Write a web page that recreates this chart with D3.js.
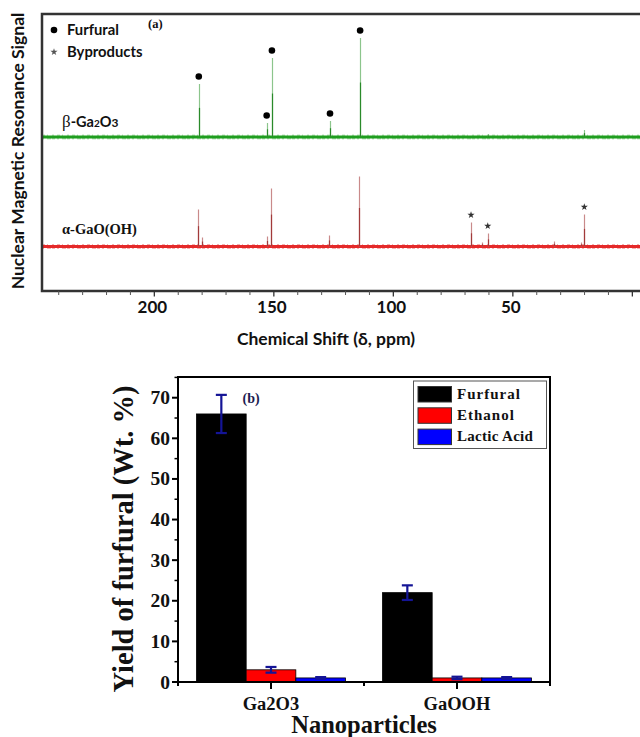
<!DOCTYPE html>
<html>
<head>
<meta charset="utf-8">
<script src="https://cdn.jsdelivr.net/npm/d3@7/dist/d3.min.js"></script>
<style>
  html, body { margin: 0; padding: 0; background: #fff; }
  svg { display: block; }
</style>
</head>
<body>
<svg id="chart" width="640" height="737"></svg>
<script>
// ---------- Panel (a): NMR spectra ----------
const ppmMajorTicks = [200, 150, 100, 50, 0];
const ppmTickLabels = ["200", "150", "100", "50", ""];
const ppmMinorTicks = [240, 230, 220, 210, 190, 180, 170, 160, 140, 130, 120, 110, 90, 80, 70, 60, 40, 30, 20, 10];

const betaPeakPpm    = [181.4, 153.0, 150.8, 126.5, 113.9, 60.4, 20.2];
const betaPeakHeight = [53, 14, 79, 16, 99, 3, 7];
const betaFurfuralPpm = [181.4, 153.0, 150.8, 126.5, 113.9];

const alphaPeakPpm    = [181.6, 179.9, 153.0, 151.2, 126.8, 114.2, 67.5, 63.0, 60.5, 32.8, 21.5, 20.1];
const alphaPeakHeight = [37, 9, 10, 58, 11, 70, 24, 4, 13, 5, 4, 32];
const alphaByproductPpm = [67.5, 60.5, 20.1];

const spectraOffsets = { beta: 154, alpha: 44.5 };

// ---------- Panel (b): yields ----------
const categories = ["Ga2O3", "GaOOH"];
const seriesNames = ["Furfural", "Ethanol", "Lactic Acid"];
const furfuralYield = [66, 22];
const ethanolYield  = [3, 1];
const lacticYield   = [1, 1];
const furfuralErr = [4.7, 1.8];
const ethanolErr  = [0.7, 0.3];
const lacticErr   = [0.2, 0.2];
const yieldTicks = [0, 10, 20, 30, 40, 50, 60, 70];
const yieldMinorTicks = [5, 15, 25, 35, 45, 55, 65, 75];

const svg = d3.select("#chart");

// ====== Panel (a) ======
const A = { left: 42, right: 640, top: 14, bottom: 291 };
const xA = d3.scaleLinear().domain([247, -3.2]).range([A.left, A.right]);
const yA = d3.scaleLinear().domain([0, 277]).range([A.bottom, A.top]);
const sans = "Lato, 'Open Sans', sans-serif";
const serif = "'Liberation Serif', 'DejaVu Serif', serif";

const gA = svg.append("g");

function drawSpectrum(ppm, heights, offset, baseColor, peakColor, peakLight) {
  const xl = xA(xA.domain()[0]), xr = xA(xA.domain()[1]);
  gA.append("line")
    .attr("x1", xl).attr("x2", xr)
    .attr("y1", yA(offset)).attr("y2", yA(offset))
    .attr("stroke", baseColor).attr("stroke-width", 3.2);
  gA.append("line")
    .attr("x1", xl).attr("x2", xr)
    .attr("y1", yA(offset) - 1.8).attr("y2", yA(offset) - 1.8)
    .attr("stroke", baseColor).attr("stroke-width", 1).attr("stroke-opacity", 0.45)
    .attr("stroke-dasharray", "3 2 1 4 2 3");
  gA.append("line")
    .attr("x1", xl).attr("x2", xr)
    .attr("y1", yA(offset) + 1.8).attr("y2", yA(offset) + 1.8)
    .attr("stroke", baseColor).attr("stroke-width", 1).attr("stroke-opacity", 0.45)
    .attr("stroke-dasharray", "2 3 4 1 3 2");
  const peaks = ppm.map((p, i) => ({ p, h: heights[i] }));
  gA.selectAll(null).data(peaks).enter().append("line")
    .attr("x1", d => Math.round(xA(d.p)) + 0.5).attr("x2", d => Math.round(xA(d.p)) + 0.5)
    .attr("y1", yA(offset)).attr("y2", d => yA(offset + d.h))
    .attr("stroke", peakLight).attr("stroke-width", 1.2);
  gA.selectAll(null).data(peaks).enter().append("line")
    .attr("x1", d => Math.round(xA(d.p)) + 0.5).attr("x2", d => Math.round(xA(d.p)) + 0.5)
    .attr("y1", yA(offset)).attr("y2", d => yA(offset + d.h * 0.55))
    .attr("stroke", peakColor).attr("stroke-width", 1.2);
}

drawSpectrum(betaPeakPpm, betaPeakHeight, spectraOffsets.beta, "#1f9e1f", "#2a8a2a", "#8cc58c");
drawSpectrum(alphaPeakPpm, alphaPeakHeight, spectraOffsets.alpha, "#e52a2a", "#a23a3a", "#c98a8a");

// furfural dots
gA.selectAll(null).data(betaFurfuralPpm).enter().append("circle")
  .attr("cx", d => xA(d))
  .attr("cy", d => yA(spectraOffsets.beta + betaPeakHeight[betaPeakPpm.indexOf(d)]) - 7.5)
  .attr("r", 3.3).attr("fill", "#000");

// byproduct stars
const star = d3.symbol().type(d3.symbolStar).size(16);
gA.selectAll(null).data(alphaByproductPpm).enter().append("path")
  .attr("d", star)
  .attr("transform", d => `translate(${xA(d)},${yA(spectraOffsets.alpha + alphaPeakHeight[alphaPeakPpm.indexOf(d)]) - 7.5})`)
  .attr("fill", "#333");

// frame (a)
gA.append("path")
  .attr("d", `M${A.right},${A.top}H${A.left}V${A.bottom}H${A.right}`)
  .attr("fill", "none").attr("stroke", "#333").attr("stroke-width", 2.5);

// x axis ticks
gA.selectAll(null).data(ppmMajorTicks).enter().append("line")
  .attr("x1", d => xA(d)).attr("x2", d => xA(d))
  .attr("y1", A.bottom).attr("y2", A.bottom + 5.5)
  .attr("stroke", "#333").attr("stroke-width", 1.3);
gA.selectAll(null).data(ppmMinorTicks).enter().append("line")
  .attr("x1", d => xA(d)).attr("x2", d => xA(d))
  .attr("y1", A.bottom).attr("y2", A.bottom + 4)
  .attr("stroke", "#555").attr("stroke-width", 1);
gA.selectAll(null).data(ppmMajorTicks).enter().append("text")
  .attr("x", d => xA(d) - 2).attr("y", 312.5)
  .attr("text-anchor", "middle")
  .attr("font-family", sans).attr("font-weight", 700).attr("font-size", 17)
  .attr("fill", "#111")
  .text((d, i) => ppmTickLabels[i]);

// x title
gA.append("text")
  .attr("x", 326).attr("y", 345).attr("text-anchor", "middle")
  .attr("font-family", sans).attr("font-weight", 700).attr("font-size", 17.5)
  .attr("fill", "#111")
  .text("Chemical Shift (δ, ppm)");

// y title
gA.append("text")
  .attr("transform", "translate(24,151) rotate(-90)")
  .attr("text-anchor", "middle")
  .attr("font-family", sans).attr("font-weight", 700).attr("font-size", 17.5)
  .attr("fill", "#111")
  .text("Nuclear Magnetic Resonance Signal");

// legend (a)
gA.append("circle").attr("cx", 54).attr("cy", 30).attr("r", 3.3).attr("fill", "#000");
gA.append("text").attr("x", 67).attr("y", 35)
  .attr("font-family", sans).attr("font-weight", 700).attr("font-size", 14.8).attr("fill", "#111")
  .text("Furfural");
gA.append("path").attr("d", star).attr("transform", "translate(54,52)").attr("fill", "#555");
gA.append("text").attr("x", 67).attr("y", 57)
  .attr("font-family", sans).attr("font-weight", 700).attr("font-size", 14.8).attr("fill", "#111")
  .text("Byproducts");
gA.append("text").attr("x", 148).attr("y", 28)
  .attr("font-family", serif).attr("font-weight", 700).attr("font-size", 12.5).attr("fill", "#111")
  .text("(a)");

// series labels
const betaLbl = gA.append("text").attr("x", 62).attr("y", 127)
  .attr("font-family", sans).attr("font-weight", 700).attr("font-size", 14.5).attr("fill", "#111");
betaLbl.append("tspan").attr("font-family", serif).attr("font-weight", 400).attr("font-size", 17).text("β");
betaLbl.append("tspan").text("-Ga");
betaLbl.append("tspan").attr("font-size", 10).text("2");
betaLbl.append("tspan").text("O");
betaLbl.append("tspan").attr("font-size", 12).text("3");

gA.append("text").attr("x", 62).attr("y", 234)
  .attr("font-family", serif).attr("font-weight", 700).attr("font-size", 14.5).attr("fill", "#111")
  .text("α-GaO(OH)");

// ====== Panel (b) ======
const B = { left: 178, right: 550, top: 377, bottom: 682 };
const x0 = d3.scaleBand().domain(categories).range([B.left, B.right]).paddingInner(0).paddingOuter(0);
const groupW = 149;
const x1 = d3.scaleBand().domain(seriesNames).range([0, groupW]);
const yB = d3.scaleLinear().domain([0, 75.1]).range([B.bottom, B.top]);
const colors = { "Furfural": "#000000", "Ethanol": "#ff0000", "Lactic Acid": "#0000ff" };

const valuesBySeries = { "Furfural": furfuralYield, "Ethanol": ethanolYield, "Lactic Acid": lacticYield };
const errBySeries = { "Furfural": furfuralErr, "Ethanol": ethanolErr, "Lactic Acid": lacticErr };

const barData = [];
categories.forEach((c, ci) => {
  seriesNames.forEach(s => {
    barData.push({ c, s, v: valuesBySeries[s][ci], e: errBySeries[s][ci] });
  });
});

const gB = svg.append("g");
const groupX = c => x0(c) + (x0.bandwidth() - groupW) / 2;

gB.selectAll(null).data(barData).enter().append("rect")
  .attr("x", d => groupX(d.c) + x1(d.s))
  .attr("width", x1.bandwidth())
  .attr("y", d => yB(d.v))
  .attr("height", d => yB(0) - yB(d.v))
  .attr("fill", d => colors[d.s])
  .attr("stroke", "#000").attr("stroke-width", 0.8);

// error bars
const errColor = "#141496";
const capW = 5.5;
barData.forEach(d => {
  const cx = groupX(d.c) + x1(d.s) + x1.bandwidth() / 2;
  const y1 = yB(d.v + d.e), y2 = yB(d.v - d.e);
  gB.append("line").attr("x1", cx).attr("x2", cx).attr("y1", y1).attr("y2", y2)
    .attr("stroke", errColor).attr("stroke-width", 2.2);
  [y1, y2].forEach(yy => {
    gB.append("line").attr("x1", cx - capW).attr("x2", cx + capW).attr("y1", yy).attr("y2", yy)
      .attr("stroke", errColor).attr("stroke-width", 2.2);
  });
});

// frame (b)
gB.append("rect").attr("x", B.left).attr("y", B.top)
  .attr("width", B.right - B.left).attr("height", B.bottom - B.top)
  .attr("fill", "none").attr("stroke", "#000").attr("stroke-width", 2);

// y axis ticks
gB.selectAll(null).data(yieldTicks).enter().append("line")
  .attr("x1", B.left - 6).attr("x2", B.left)
  .attr("y1", d => yB(d)).attr("y2", d => yB(d))
  .attr("stroke", "#000").attr("stroke-width", 2);
gB.selectAll(null).data(yieldMinorTicks).enter().append("line")
  .attr("x1", B.left - 3.5).attr("x2", B.left)
  .attr("y1", d => yB(d)).attr("y2", d => yB(d))
  .attr("stroke", "#000").attr("stroke-width", 1.5);
gB.selectAll(null).data(yieldTicks).enter().append("text")
  .attr("x", B.left - 8).attr("y", d => yB(d) + 6.5)
  .attr("text-anchor", "end")
  .attr("font-family", serif).attr("font-weight", 700).attr("font-size", 19.5)
  .attr("fill", "#111")
  .text(d => d);

// x axis ticks
gB.selectAll(null).data(categories).enter().append("line")
  .attr("x1", d => x0(d) + x0.bandwidth() / 2).attr("x2", d => x0(d) + x0.bandwidth() / 2)
  .attr("y1", B.bottom).attr("y2", B.bottom + 7)
  .attr("stroke", "#000").attr("stroke-width", 2);
const bandEdges = [B.left, x0(categories[1]), B.right];
gB.selectAll(null).data(bandEdges).enter().append("line")
  .attr("x1", d => d).attr("x2", d => d)
  .attr("y1", B.bottom).attr("y2", B.bottom + 4)
  .attr("stroke", "#000").attr("stroke-width", 2);
gB.selectAll(null).data(categories).enter().append("text")
  .attr("x", d => x0(d) + x0.bandwidth() / 2).attr("y", 710)
  .attr("text-anchor", "middle")
  .attr("font-family", serif).attr("font-weight", 700).attr("font-size", 18.5)
  .attr("fill", "#111")
  .text(d => d);

gB.append("text").attr("x", 364).attr("y", 733).attr("text-anchor", "middle")
  .attr("font-family", serif).attr("font-weight", 700).attr("font-size", 24.5).attr("fill", "#111")
  .text("Nanoparticles");

gB.append("text").attr("transform", "translate(133,539) rotate(-90)")
  .attr("text-anchor", "middle")
  .attr("font-family", serif).attr("font-weight", 700).attr("font-size", 28.5).attr("fill", "#111")
  .text("Yield of furfural (Wt. %)");

gB.append("text").attr("x", 242.5).attr("y", 403)
  .attr("font-family", serif).attr("font-weight", 700).attr("font-size", 14).attr("fill", "#1c1c50")
  .text("(b)");

// legend (b)
const lg = gB.append("g");
lg.append("rect").attr("x", 413.5).attr("y", 381).attr("width", 133).attr("height", 67.5)
  .attr("fill", "#fff").attr("stroke", "#555").attr("stroke-width", 1);
seriesNames.forEach((s, i) => {
  const yy = 386.5 + i * 21.3;
  lg.append("rect").attr("x", 418).attr("y", yy).attr("width", 33.5).attr("height", 15.5)
    .attr("fill", colors[s]).attr("stroke", "#333").attr("stroke-width", 1);
  lg.append("text").attr("x", 457).attr("y", yy + 12)
    .attr("font-family", serif).attr("font-weight", 700).attr("font-size", 15)
    .attr("letter-spacing", i === 2 ? 0.3 : 1)
    .attr("fill", "#111").text(s);
});
</script>
</body>
</html>
